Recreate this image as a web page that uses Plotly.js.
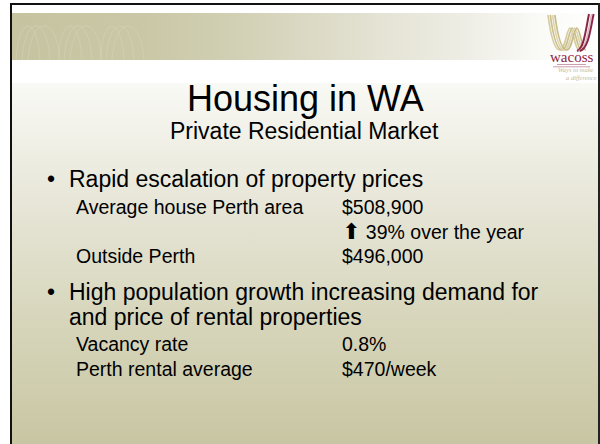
<!DOCTYPE html>
<html>
<head>
<meta charset="utf-8">
<script src="https://cdn.plot.ly/plotly-3.0.1.min.js"></script>
<style>
  html, body { margin: 0; padding: 0; background: #ffffff; }
  #chart {
    width: 600px; height: 444px; position: relative;
    background:
      linear-gradient(to right, #c6c4a0 0%, #c9c7a5 22%, #d3d1b6 40%, #e2e1d1 60%, #efeee6 78%, #fafaf7 90%, #ffffff 100%) 12px 13px / 588px 47px no-repeat,
      linear-gradient(to bottom, #fdfdfb 0px, #ffffff 0px) 12px 60px / 588px 23px no-repeat,
      linear-gradient(to bottom, #f9f9f5 0%, #e6e5d6 35%, #d7d6bc 65%, #c8c6a2 100%) 12px 83px / 588px 361px no-repeat,
      #ffffff;
  }
</style>
</head>
<body>
<div id="chart"></div>
<script>
// ---- slide content (data) ----
const titleText = "Housing in WA";
const subtitleText = "Private Residential Market";
const bulletLines = [
  ["Rapid escalation of property prices"],
  ["High population growth increasing demand for", "and price of rental properties"]
];
const subLabels = [
  ["Average house Perth area", "", "Outside Perth"],
  ["Vacancy rate", "Perth rental average"]
];
const subValues = [
  ["$508,900", "\u2B06 39% over the year", "$496,000"],
  ["0.8%", "$470/week"]
];
const logoName = "wacoss";
const logoTagline = ["Ways to make", "a difference"];

// ---- layout helpers (pixel -> paper) ----
const W = 600, H = 444;
const FONT = "Liberation Sans, Arial, Helvetica, sans-serif";
const px = x => x / W;
const py = y => 1 - y / H;
const P = (x, y) => px(x).toFixed(5) + "," + py(y).toFixed(5);

const annotations = [];
function txt(text, x, baseline, size, anchor, extra) {
  const a = {
    xref: "paper", yref: "paper",
    x: px(x), y: py(baseline - 0.35 * size),
    xanchor: anchor || "left", yanchor: "middle",
    text: text, showarrow: false,
    borderpad: 0, borderwidth: 0,
    font: { family: FONT, size: size, color: "#000000" }
  };
  if (extra) Object.assign(a, extra);
  annotations.push(a);
}

// title + subtitle
txt(titleText, 305.5, 111.5, 36, "center");
txt(subtitleText, 304, 139.5, 23, "center");

// bullets
const BULLET_SIZE = 23, SUB_SIZE = 19.5;
const BULLET_X = 50.5, BULLET_TEXT_X = 69, SUB_X = 76, VAL_X = 342;
const BULLET_STEP = 24.5, SUB_OFFSET = 26, SUB_STEP = 24.5, GROUP_GAP = 38;
let yCur = 187.5;
bulletLines.forEach((lines, g) => {
  txt("\u2022", BULLET_X, yCur, BULLET_SIZE, "center");
  lines.forEach((ln, i) => {
    txt(ln, BULLET_TEXT_X, yCur, BULLET_SIZE, "left");
    if (i < lines.length - 1) yCur += BULLET_STEP;
  });
  yCur += SUB_OFFSET;
  subLabels[g].forEach((lab, i) => {
    if (lab) txt(lab, SUB_X, yCur, SUB_SIZE, "left");
    let v = subValues[g][i];
    v = v.replace("\u2B06", '<span style="font-family:DejaVu Sans;font-size:22px">\u2B06</span>');
    txt(v, VAL_X, yCur, SUB_SIZE, "left");
    if (i < subLabels[g].length - 1) yCur += SUB_STEP;
  });
  yCur += GROUP_GAP;
});

// logo text
txt(logoName, 571, 62, 15, "center", { font: { family: "Liberation Serif, serif", size: 15, color: "#8b2547" } });
txt("<i>" + logoTagline[0] + "</i>", 594, 72, 6.5, "right", { font: { family: "Liberation Serif, serif", size: 6.5, color: "#c4bd9c" } });
txt("<i>" + logoTagline[1] + "</i>", 597, 80, 6.5, "right", { font: { family: "Liberation Serif, serif", size: 6.5, color: "#c4bd9c" } });

// ---- decorative shapes ----
const shapes = [];
// faint wave pattern on header band
[16, 22, 28, 58, 64, 70, 100, 106, 112].forEach((x0, i) => {
  const w = 24 + (i % 3) * 4;
  shapes.push({
    type: "path", xref: "paper", yref: "paper",
    path: "M " + P(x0, 62) + " C " + P(x0 + 2, 14) + " " + P(x0 + w - 2, 14) + " " + P(x0 + w, 62),
    line: { color: "rgba(255,255,255,0.13)", width: 1 }
  });
});
// logo: beige W strands
const beige = ["#d6cca0", "#cbbf8c", "#ddd4ad", "#c7bb86"];
[0, 1, 2, 3].forEach(k => {
  const o = k * 2.3;
  shapes.push({
    type: "path", xref: "paper", yref: "paper",
    path: "M " + P(548 + o, 15) + " C " + P(551 + o, 38) + " " + P(555 + o, 50) + " " + P(560 + o, 50) +
          " C " + P(565 + o, 50) + " " + P(567 + o, 28) + " " + P(570 + o, 28) +
          " C " + P(573 + o, 28) + " " + P(575 + o, 50) + " " + P(579 + o, 50),
    line: { color: beige[k], width: 1.7 }
  });
});
// logo: maroon right strand
[[0, "#8b2547", 2], [2.6, "#d9b9bf", 1.4], [4.6, "#8b2547", 2]].forEach(([o, c, w]) => {
  shapes.push({
    type: "path", xref: "paper", yref: "paper",
    path: "M " + P(577 + o * 0.6, 51) + " C " + P(584 + o, 49) + " " + P(586 + o, 28) + " " + P(589 + o, 14),
    line: { color: c, width: w }
  });
});
// logo small text lines
[[557, 586, 64.5], [553, 590, 66.8]].forEach(([a, b, y]) => {
  shapes.push({ type: "line", xref: "paper", yref: "paper", x0: px(a), x1: px(b), y0: py(y), y1: py(y),
    line: { color: "rgba(139,37,71,0.45)", width: 1 } });
});
// slide border
shapes.push({ type: "line", xref: "paper", yref: "paper", x0: px(10), x1: px(600), y0: py(4), y1: py(4), line: { color: "#111111", width: 2 } });
shapes.push({ type: "line", xref: "paper", yref: "paper", x0: px(11), x1: px(11), y0: py(3), y1: py(444), line: { color: "#111111", width: 2 } });
shapes.push({ type: "line", xref: "paper", yref: "paper", x0: px(599), x1: px(599), y0: py(3), y1: py(444), line: { color: "#222222", width: 2 } });

const layout = {
  width: W, height: H,
  margin: { l: 0, r: 0, t: 0, b: 0 },
  paper_bgcolor: "rgba(0,0,0,0)",
  plot_bgcolor: "rgba(0,0,0,0)",
  xaxis: { visible: false, range: [0, 1], fixedrange: true },
  yaxis: { visible: false, range: [0, 1], fixedrange: true },
  showlegend: false,
  annotations: annotations,
  shapes: shapes
};
Plotly.newPlot("chart", [], layout, { displayModeBar: false, staticPlot: true });
</script>
</body>
</html>
